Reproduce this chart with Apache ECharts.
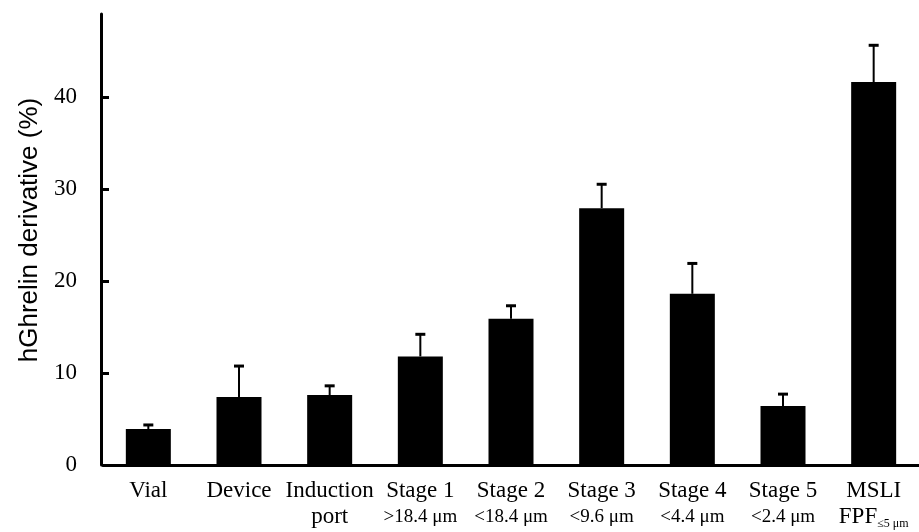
<!DOCTYPE html>
<html>
<head>
<meta charset="utf-8">
<script src="https://cdn.jsdelivr.net/npm/echarts@6/dist/echarts.min.js"></script>
<style>
  html, body { margin: 0; padding: 0; background: #fff; }
  #chart { width: 919px; height: 532px; }
</style>
</head>
<body>
<div id="chart"></div>
<script>
// Deposition of the hGhrelin derivative across the MSLI stages (mean + SD)
const categories = ['Vial', 'Device', 'Induction', 'Stage 1', 'Stage 2', 'Stage 3', 'Stage 4', 'Stage 5', 'MSLI'];
const subLabels = ['', '', 'port', '>18.4 μm', '<18.4 μm', '<9.6 μm', '<4.4 μm', '<2.4 μm', 'FPF'];
const means = [3.9, 7.4, 7.6, 11.8, 15.9, 27.9, 18.6, 6.4, 41.6];
const errors = [0.45, 3.35, 1.0, 2.4, 1.4, 2.6, 3.3, 1.3, 4.0];
const yTicks = [0, 10, 20, 30, 40];

const serif = '"Liberation Serif", "Times New Roman", serif';
const sans = '"Liberation Sans", Arial, sans-serif';

const errData = categories.map((c, i) => [i, means[i], means[i] + errors[i]]);

const chart = echarts.init(document.getElementById('chart'), null, { renderer: 'canvas' });

chart.setOption({
  animation: false,
  backgroundColor: '#ffffff',
  grid: { left: 103, top: 14, width: 823, height: 451, containLabel: false },
  xAxis: {
    type: 'category',
    data: categories,
    boundaryGap: true,
    axisLine: { show: true, lineStyle: { color: '#000', width: 3 } },
    axisTick: { show: false },
    axisLabel: {
      interval: 0,
      margin: 13,
      color: '#000',
      formatter: function (value, idx) {
        const sub = subLabels[idx];
        if (value === 'MSLI') return '{a|MSLI}\n{a|FPF}{s|≤5 μm}';
        if (!sub) return '{a|' + value + '}';
        if (sub === 'port') return '{a|' + value + '}\n{a|' + sub + '}';
        return '{a|' + value + '}\n{b|' + sub + '}';
      },
      rich: {
        a: { fontFamily: serif, fontSize: 23, color: '#000', lineHeight: 26 },
        b: { fontFamily: serif, fontSize: 19, color: '#000', lineHeight: 26 },
        s: { fontFamily: serif, fontSize: 12, color: '#000', lineHeight: 26, verticalAlign: 'bottom', padding: [10, 0, 0, 0] }
      }
    },
    splitLine: { show: false }
  },
  yAxis: {
    type: 'value',
    min: 0,
    max: 49,
    interval: 10,
    offset: 2,
    axisLine: { show: true, lineStyle: { color: '#000', width: 3 } },
    axisTick: { show: true, inside: true, length: 8, lineStyle: { color: '#000', width: 3 }, customValues: [10, 20, 30, 40] },
    axisLabel: { color: '#000', fontFamily: serif, fontSize: 23, margin: 24, customValues: yTicks },
    splitLine: { show: false }
  },
  graphic: [{
    type: 'text',
    x: 30,
    y: 230,
    rotation: Math.PI / 2,
    style: {
      text: 'hGhrelin derivative (%)',
      fontFamily: sans,
      fontSize: 26,
      fill: '#000',
      align: 'center',
      verticalAlign: 'middle'
    }
  }],
  series: [
    {
      type: 'bar',
      data: means,
      barWidth: 45,
      itemStyle: { color: '#000' },
      z: 2
    },
    {
      type: 'custom',
      data: errData,
      encode: { x: 0, y: [1, 2] },
      z: 3,
      renderItem: function (params, api) {
        const base = api.coord([api.value(0), api.value(1)]);
        const top = api.coord([api.value(0), api.value(2)]);
        const half = 5;
        return {
          type: 'group',
          children: [
            { type: 'line', shape: { x1: base[0], y1: base[1], x2: top[0], y2: top[1] }, style: { stroke: '#000', lineWidth: 2 } },
            { type: 'line', shape: { x1: top[0] - half, y1: top[1], x2: top[0] + half, y2: top[1] }, style: { stroke: '#000', lineWidth: 3 } }
          ]
        };
      }
    }
  ]
});
</script>
</body>
</html>
